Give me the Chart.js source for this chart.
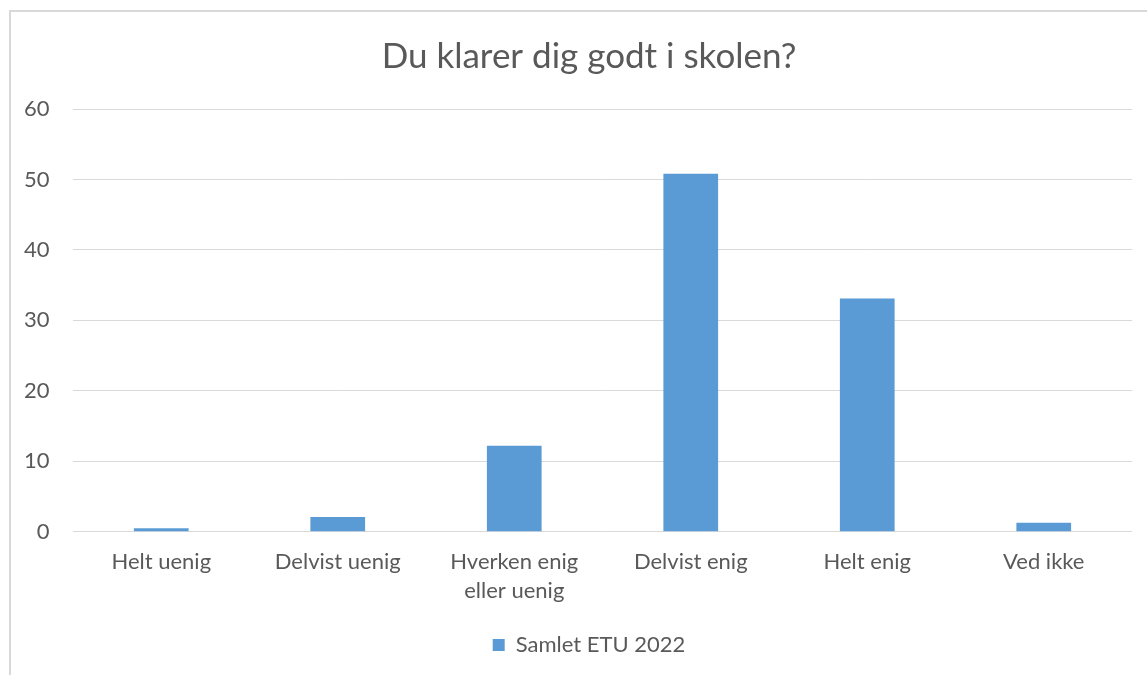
<!DOCTYPE html>
<html>
<head>
<meta charset="utf-8">
<script src="https://cdn.jsdelivr.net/npm/chart.js@4"></script>
<style>
  body { margin: 0; background: #fff; }
  #ramme { position: absolute; left: 9px; top: 10px; width: 1160px; height: 700px; border: 2px solid #d9d9d9; box-sizing: border-box; }
  #wrap { position: absolute; left: 0; top: 0; width: 1147px; height: 675px; }
</style>
</head>
<body>
<div id="ramme"></div>
<div id="wrap"><canvas id="graf"></canvas></div>
<script>
// data
var kategorier = ['Helt uenig', 'Delvist uenig', ['Hverken enig', 'eller uenig'], 'Delvist enig', 'Helt enig', 'Ved ikke']
var verdier = [0.5, 2.1, 12.2, 50.8, 33.1, 1.3]
var serieNavn = 'Samlet ETU 2022'
var tittel = 'Du klarer dig godt i skolen?'

var grå = '#595959'
var font = 'Lato'

new Chart('graf', {
  type: 'bar',
  data: {
    labels: kategorier,
    datasets: [{
      label: serieNavn,
      data: verdier,
      backgroundColor: '#5b9bd5',
      categoryPercentage: 1,
      barPercentage: 0.31
    }]
  },
  options: {
    responsive: true,
    maintainAspectRatio: false,
    animation: false,
    layout: { padding: { left: 46, right: 15, top: 36, bottom: 9 } },
    plugins: {
      title: {
        display: true,
        text: tittel,
        color: grå,
        font: { family: font, size: 35, weight: 'normal' },
        padding: { top: 0, bottom: 31 }
      },
      legend: {
        position: 'bottom',
        labels: {
          color: grå,
          font: { family: font, size: 22 },
          boxWidth: 12,
          boxHeight: 12,
          padding: 10
        }
      },
      tooltip: { enabled: false }
    },
    scales: {
      y: {
        min: 0,
        max: 60,
        // mirror slik at tallene ikke klippes av venstre marg
        ticks: { stepSize: 10, color: grå, font: { family: font, size: 22 }, mirror: true, crossAlign: 'far', padding: -49 },
        grid: { color: '#d9d9d9', drawTicks: false },
        border: { display: false },
        afterFit: function (s) { s.width = 27 }
      },
      x: {
        ticks: { color: grå, font: { family: font, size: 22, lineHeight: 1.3 }, maxRotation: 0, autoSkip: false, padding: 16 },
        grid: { display: false, drawTicks: false },
        border: { display: false },
        afterFit: function (s) { s.height += 3 }
      }
    }
  }
})
</script>
</body>
</html>
